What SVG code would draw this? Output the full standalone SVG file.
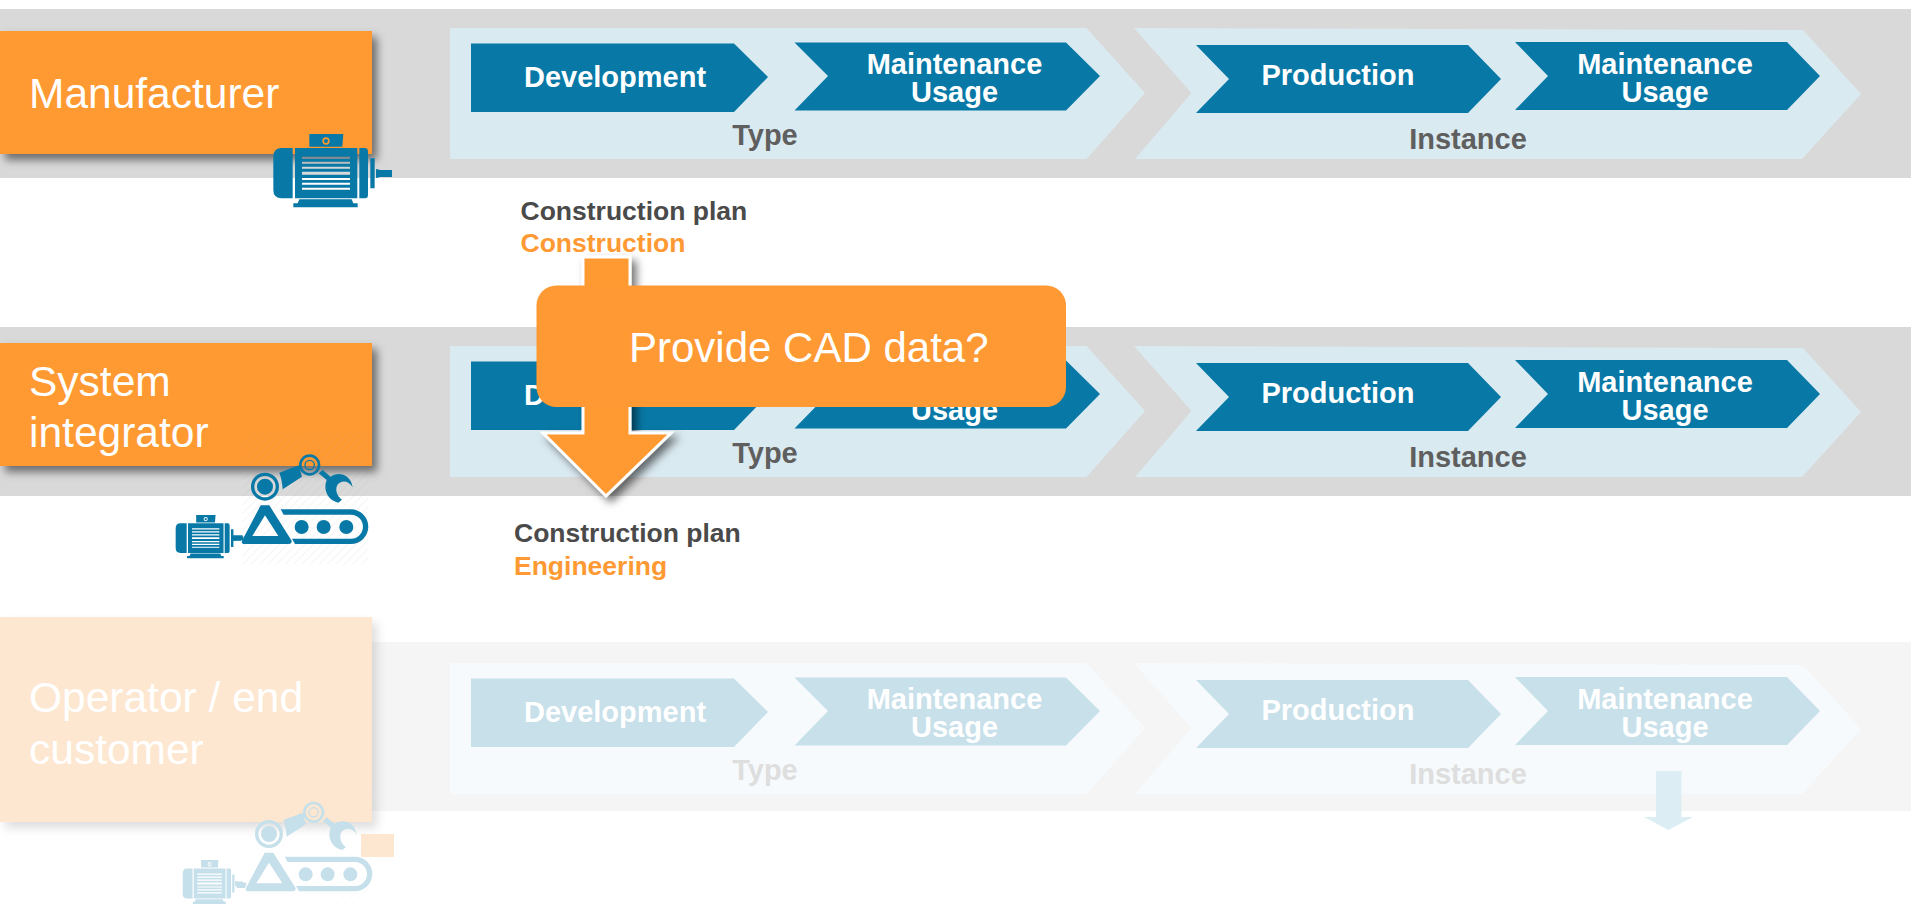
<svg xmlns="http://www.w3.org/2000/svg" xmlns:xlink="http://www.w3.org/1999/xlink" width="1911" height="909" viewBox="0 0 1911 909">
<style>
text{font-family:"Liberation Sans",Arial,sans-serif}
.band{fill:#d9d9d9}
.light{fill:#daeaf1}
.dark{fill:#0878a6}
.lab{font-weight:700;font-size:29px;fill:#fff;text-anchor:middle}
.phase{font-weight:700;font-size:29px;fill:#5f5f5f;text-anchor:middle}
.box{fill:#ff9933;filter:url(#sh)}
.role{font-size:42.5px;fill:#fff}
.ask{font-size:42px;fill:#fff}
.note{font-weight:700;font-size:26.5px;fill:#4a4a4a}
.noteo{font-weight:700;font-size:26.5px;fill:#ff9933}
.hatch{fill:url(#ht)}
.icon{color:#0878a6}
.f .band{fill:#f5f5f5}
.f .light{fill:#f6fafc}
.f .dark{fill:#c8e0ea}
.f .phase{fill:#dedede}
.f .box{fill:#fde7d1;filter:url(#shf)}
.f .icon{color:#c6e0eb}
.f .hatch{opacity:.25}
</style>
<defs>
<filter id="sh" x="-10%" y="-15%" width="125%" height="135%"><feDropShadow dx="5" dy="6" stdDeviation="4" flood-color="#000" flood-opacity=".5"/></filter>
<filter id="shf" x="-10%" y="-15%" width="125%" height="135%"><feDropShadow dx="5" dy="6" stdDeviation="5" flood-color="#000" flood-opacity=".13"/></filter>
<filter id="sha" x="-30%" y="-10%" width="170%" height="125%"><feDropShadow dx="5" dy="5" stdDeviation="4" flood-color="#000" flood-opacity=".55"/></filter>
<pattern id="ht" width="6" height="6" patternUnits="userSpaceOnUse" patternTransform="rotate(45)"><rect width="6" height="6" fill="#fff" opacity="0"/><line x1="0" y1="0" x2="0" y2="6" stroke="#999" stroke-width="1.5" opacity=".13"/></pattern>
<path id="motor" fill="currentColor" fill-rule="evenodd" d="M128 84H95Q70 84 70 110V210Q70 235 95 235H128Z M135 84H322V235H135Z M156 110h144v6h-144z M156 125h144v6h-144z M156 140h144v6h-144z M156 155h144v9h-144z M156 174h144v6h-144z M156 188h144v6h-144z M156 203h144v6h-144z M328 84H345Q354 84 354 95V225Q354 235 345 235H328Z M361 115H374V205H361Z M378 147L392 150H426V171H392L378 174Z M178 42H280L277 80H178Z M217 63a11 11 0 1 0 22 0a11 11 0 1 0 -22 0Z M222 63a6 6 0 1 0 12 0a6 6 0 1 0 -12 0Z M148 238H305L310 250H323V262H130V250H143Z"/>
<path id="robot" fill="currentColor" fill-rule="evenodd" d="M273 170a42 42 0 1 0 84 0a42 42 0 1 0 -84 0Z M283 170a32 32 0 1 0 64 0a32 32 0 1 0 -64 0Z M291 170a24 24 0 1 0 48 0a24 24 0 1 0 -48 0Z M358 128L416 106L426 140L368 178Q366 148 358 128Z M417 105a32 32 0 1 0 64 0a32 32 0 1 0 -64 0Z M425 105a24 24 0 1 0 48 0a24 24 0 1 0 -48 0Z M433 105a16 16 0 1 0 32 0a16 16 0 1 0 -32 0Z M437 105a12 12 0 1 0 24 0a12 12 0 1 0 -24 0Z M476 130L488 120L512 140C532 124 572 130 578 172C566 150 542 150 532 165C524 180 532 200 546 209L535 218C505 212 488 182 500 150Z M302 226H328L395 332Q396 342 386 342H254Q243 342 246 332Z M315 256L277 318H355Z M362 238H573A52 52 0 0 1 573 342H405L396 326H573A36 36 0 0 0 573 254H371Z M404 291a21 21 0 1 0 42 0a21 21 0 1 0 -42 0Z M470 291a21 21 0 1 0 42 0a21 21 0 1 0 -42 0Z M538 291a21 21 0 1 0 42 0a21 21 0 1 0 -42 0Z M218 316H248L243 332H218Z"/>
</defs>

<rect width="1911" height="909" fill="#fff"/>

<g id="row-manufacturer">
<rect class="band" x="0" y="9" width="1911" height="169"/>
<g id="manufacturer-type">
<polygon class="light" points="450,28 1086.5,28 1145,93 1086.5,159 450,159"/>
<polygon class="dark" points="471,43.5 734,43.5 768,77 734,112 471,112"/><text class="lab" x="615" y="86.5">Development</text>
<polygon class="dark" points="794.5,42.5 1066,42.5 1100,76 1066,110.5 794.5,110.5 828,76"/><text class="lab" x="954.5" y="74">Maintenance</text><text class="lab" x="954.5" y="102">Usage</text>
<text class="phase" x="765" y="144.5">Type</text>
</g>
<g id="manufacturer-instance">
<polygon class="light" points="1134,28 1803,30 1861,94 1802,159 1135,159 1191.5,93"/>
<polygon class="dark" points="1196,45 1468,45 1501,79 1468,113 1196,113 1229,79"/><text class="lab" x="1338" y="85">Production</text>
<polygon class="dark" points="1515,42 1787,42 1820,76 1787,110 1515,110 1548,76"/><text class="lab" x="1665" y="73.5">Maintenance</text><text class="lab" x="1665" y="102">Usage</text>
<text class="phase" x="1468" y="148.5">Instance</text>
</g>
<g id="manufacturer-role">
<rect class="box" x="0" y="31" width="372" height="123"/>
<text class="role" x="29" y="107.5">Manufacturer</text>
<use class="icon" href="#motor" transform="translate(250 120) scale(.3333)"/>
</g>
<g id="manufacturer-note"><text class="note" x="520.5" y="220">Construction plan</text><text class="noteo" x="520.5" y="252">Construction</text></g>
</g>

<g id="row-integrator">
<rect class="band" x="0" y="327" width="1911" height="169"/>
<g id="integrator-type" transform="translate(0 318)">
<polygon class="light" points="450,28 1086.5,28 1145,93 1086.5,159 450,159"/>
<polygon class="dark" points="471,43.5 734,43.5 768,77 734,112 471,112"/><text class="lab" x="615" y="86.5">Development</text>
<polygon class="dark" points="794.5,42.5 1066,42.5 1100,76 1066,110.5 794.5,110.5 828,76"/><text class="lab" x="954.5" y="74">Maintenance</text><text class="lab" x="954.5" y="102">Usage</text>
<text class="phase" x="765" y="144.5">Type</text>
</g>
<g id="integrator-instance" transform="translate(0 318)">
<polygon class="light" points="1134,28 1803,30 1861,94 1802,159 1135,159 1191.5,93"/>
<polygon class="dark" points="1196,45 1468,45 1501,79 1468,113 1196,113 1229,79"/><text class="lab" x="1338" y="85">Production</text>
<polygon class="dark" points="1515,42 1787,42 1820,76 1787,110 1515,110 1548,76"/><text class="lab" x="1665" y="73.5">Maintenance</text><text class="lab" x="1665" y="102">Usage</text>
<text class="phase" x="1468" y="148.5">Instance</text>
</g>
<g id="integrator-role">
<rect class="box" x="0" y="343" width="372" height="123"/>
<text class="role" x="29" y="395.5">System</text><text class="role" x="29" y="447">integrator</text>
<rect class="hatch" x="242.5" y="434" width="126" height="130"/>
<use class="icon" href="#motor" transform="translate(160 430) scale(.3333) translate(47 255) scale(.57 .59) translate(-70 -42)"/>
<use class="icon" href="#robot" transform="translate(160 430) scale(.3333)"/>
</g>
<g id="integrator-note"><text class="note" x="514" y="542">Construction plan</text><text class="noteo" x="514" y="575">Engineering</text></g>
</g>

<g id="row-operator" class="f">
<rect class="band" x="0" y="642" width="1911" height="169"/>
<g id="operator-type" transform="translate(0 635)">
<polygon class="light" points="450,28 1086.5,28 1145,93 1086.5,159 450,159"/>
<polygon class="dark" points="471,43.5 734,43.5 768,77 734,112 471,112"/><text class="lab" x="615" y="86.5">Development</text>
<polygon class="dark" points="794.5,42.5 1066,42.5 1100,76 1066,110.5 794.5,110.5 828,76"/><text class="lab" x="954.5" y="74">Maintenance</text><text class="lab" x="954.5" y="102">Usage</text>
<text class="phase" x="765" y="144.5">Type</text>
</g>
<g id="operator-instance" transform="translate(0 635)">
<polygon class="light" points="1134,28 1803,30 1861,94 1802,159 1135,159 1191.5,93"/>
<polygon class="dark" points="1196,45 1468,45 1501,79 1468,113 1196,113 1229,79"/><text class="lab" x="1338" y="85">Production</text>
<polygon class="dark" points="1515,42 1787,42 1820,76 1787,110 1515,110 1548,76"/><text class="lab" x="1665" y="73.5">Maintenance</text><text class="lab" x="1665" y="102">Usage</text>
<text class="phase" x="1468" y="148.5">Instance</text>
</g>
<g id="operator-role">
<rect class="box" x="0" y="617" width="372" height="205"/>
<text class="role" x="29" y="712">Operator / end</text><text class="role" x="29" y="764">customer</text>
<rect x="361" y="834" width="33" height="23" fill="#fde7d1"/>
<rect class="hatch" x="246" y="790" width="126" height="119"/>
<use class="icon" href="#motor" transform="translate(160 790) scale(.3333) translate(68 210) scale(.511 .6) translate(-70 -42)"/>
<use class="icon" href="#robot" transform="translate(160 790) scale(.3333) translate(12 -38)"/>
</g>
</g>

<g id="connectors">
<polygon filter="url(#sha)" fill="#ff9933" stroke="#fff" stroke-width="3" points="583,257 630,257 630,433 671,433 606,496 543,433 583,433"/>
<polygon fill="#dcedf3" points="1656,771 1681.5,771 1681.5,817 1693,817 1668.5,830 1644,817 1656,817"/>
</g>

<g id="callout">
<rect x="536.5" y="285.5" width="529.5" height="121.5" rx="20" fill="#ff9933"/>
<text class="ask" x="629" y="361.5">Provide CAD data?</text>
</g>
</svg>
